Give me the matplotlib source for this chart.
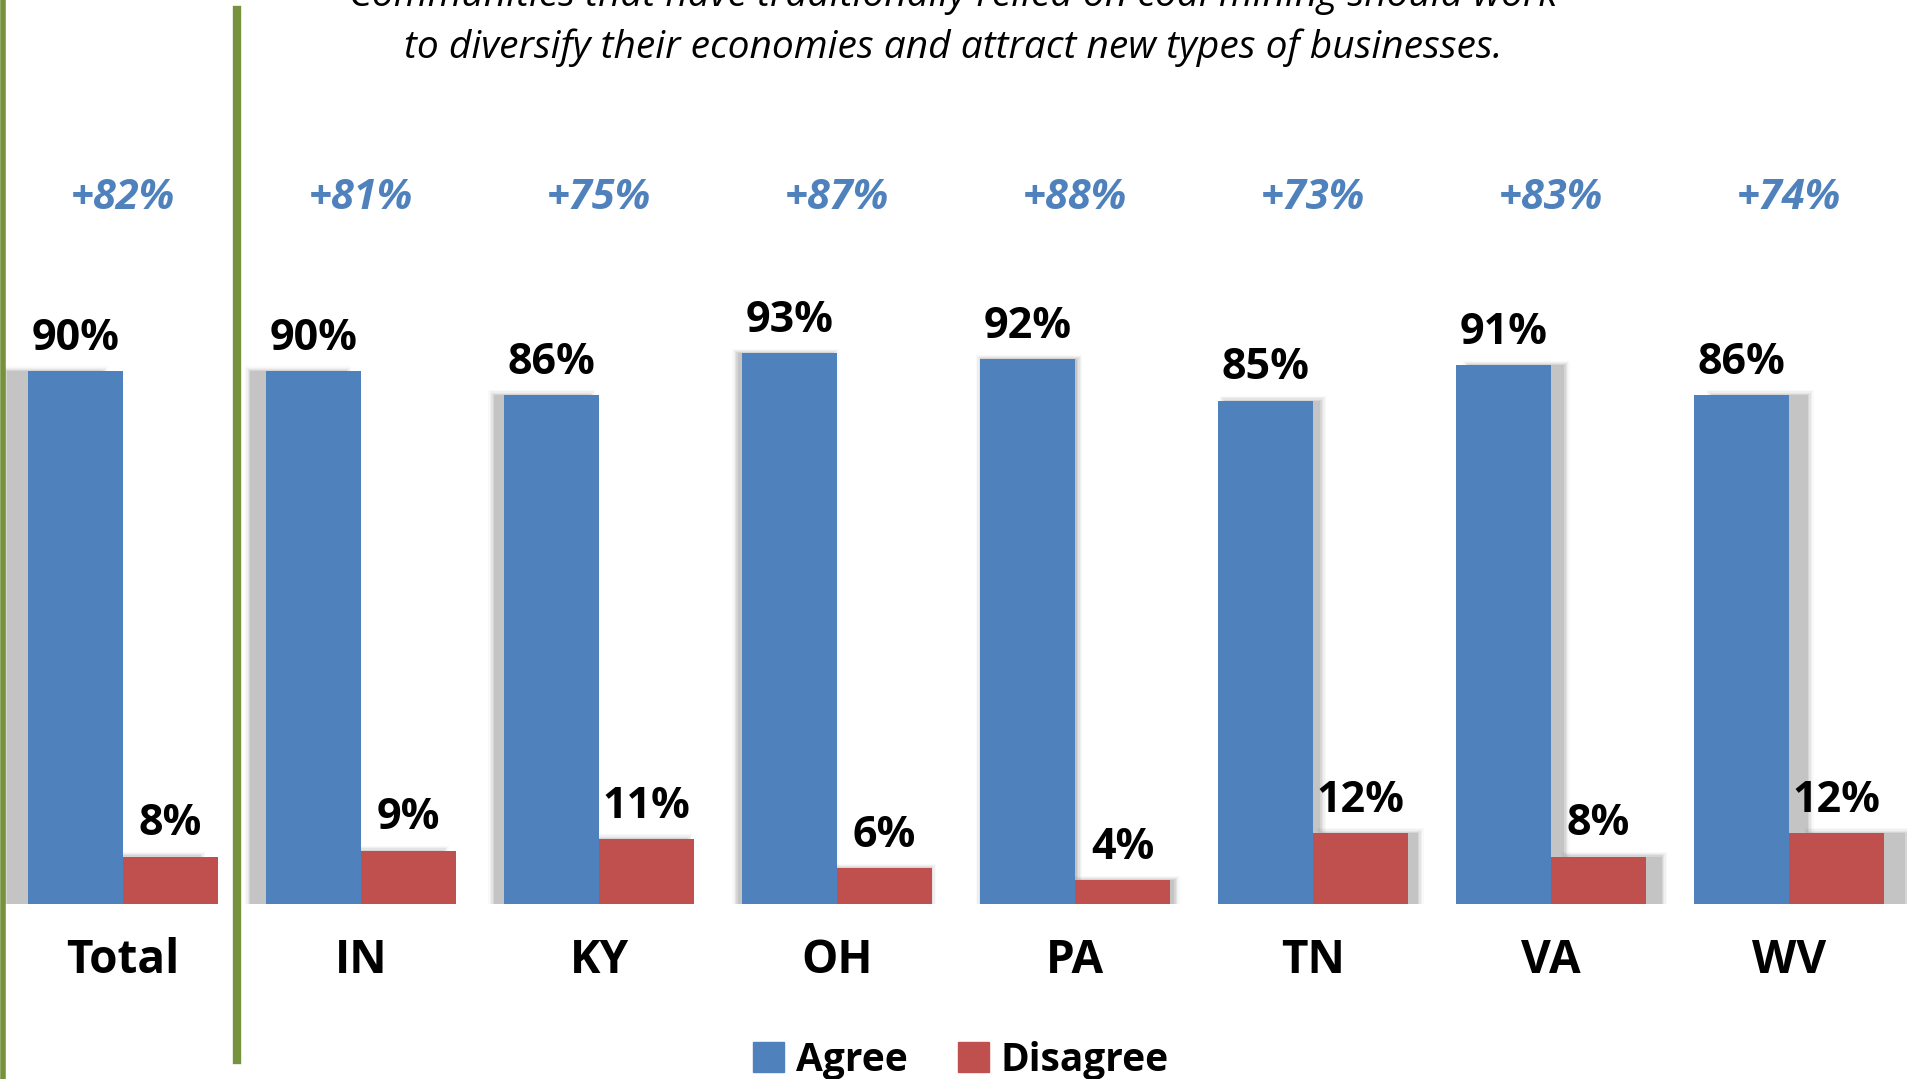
import matplotlib
matplotlib.use("Agg")
import matplotlib.pyplot as plt
from matplotlib.patches import Patch, Rectangle
import numpy as np

categories = ["Total", "IN", "KY", "OH", "PA", "TN", "VA", "WV"]
agree = [90, 90, 86, 93, 92, 85, 91, 86]
disagree = [8, 9, 11, 6, 4, 12, 8, 12]
net = ["+82%", "+81%", "+75%", "+87%", "+88%", "+73%", "+83%", "+74%"]
title_lines = [
    "Communities that have traditionally relied on coal mining should work",
    "to diversify their economies and attract new types of businesses.",
]

BLUE = "#4F81BD"
RED = "#C0504D"
GREEN = "#76923C"
FONT = "Open Sans"

W, H = 1907, 1079
fig = plt.figure(figsize=(W / 100, H / 100), dpi=100)
ax = fig.add_axes([0, 0, 1, 1])

# pixel mapping: group i centre at 123 + 238*i, zero line at y=904, 100% = 592 px
ax.set_xlim(-123 / 238, (W - 123) / 238)
ax.set_ylim(-175 / 592 * 100, (H - 175) / 592 * 100)
ax.axis("off")

x = np.arange(len(categories))
bw = 0.4


def shadow(xc, h):
    # soft perspective shadow, thrown away from the chart centre
    dx = (xc - 3.5) * 0.024
    for k, a in enumerate([0.16, 0.12, 0.09, 0.06, 0.04]):
        grow = 0.006 * k
        ax.add_patch(Rectangle((xc - bw / 2 + dx - grow, 0), bw + 2 * grow, h + 0.2 * k,
                               facecolor="#6e6e6e", edgecolor="none", alpha=a, zorder=1))


for xi, a, d in zip(x, agree, disagree):
    shadow(xi - bw / 2, a)
    shadow(xi + bw / 2, d)

ax.bar(x - bw / 2, agree, bw, color=BLUE, zorder=3)
ax.bar(x + bw / 2, disagree, bw, color=RED, zorder=3)

for xi, a, d, n, c in zip(x, agree, disagree, net, categories):
    ax.text(xi - bw / 2, a + 3.6, f"{a}%", ha="center", va="baseline",
            fontsize=31, fontweight="bold", family=FONT, color="black", zorder=4)
    ax.text(xi + bw / 2, d + 3.6, f"{d}%", ha="center", va="baseline",
            fontsize=31, fontweight="bold", family=FONT, color="black", zorder=4)
    ax.text(xi, 117.4, n, ha="center", va="baseline", fontsize=30,
            fontweight="bold", fontstyle="italic", family=FONT, color=BLUE)
    ax.text(xi, -11.6, c, ha="center", va="baseline", fontsize=33,
            fontweight="bold", family=FONT, color="black")

# title (first line is cut by the top edge in the reference)
fig.text(0.5, 1 - 6 / H, title_lines[0], ha="center", va="baseline",
         fontsize=28, fontstyle="italic", family=FONT, color="black")
fig.text(0.5, 1 - 58 / H, title_lines[1], ha="center", va="baseline",
         fontsize=28, fontstyle="italic", family=FONT, color="black")

# green separator lines
fig.add_artist(plt.Line2D([2.5 / W, 2.5 / W], [0, 1], color=GREEN, lw=4))
fig.add_artist(plt.Line2D([237 / W, 237 / W], [1 - 1060 / H, 1 - 10 / H], color=GREEN, lw=6))

handles = [Patch(color=BLUE, label="Agree"), Patch(color=RED, label="Disagree")]
fig.legend(handles=handles, loc="center", bbox_to_anchor=(0.504, 1 - 1060 / H), ncol=2,
           frameon=False, prop={"family": FONT, "weight": "bold", "size": 28},
           handlelength=0.8, handleheight=0.8, handletextpad=0.3, columnspacing=1.3)

fig.savefig("out.png", dpi=100)
